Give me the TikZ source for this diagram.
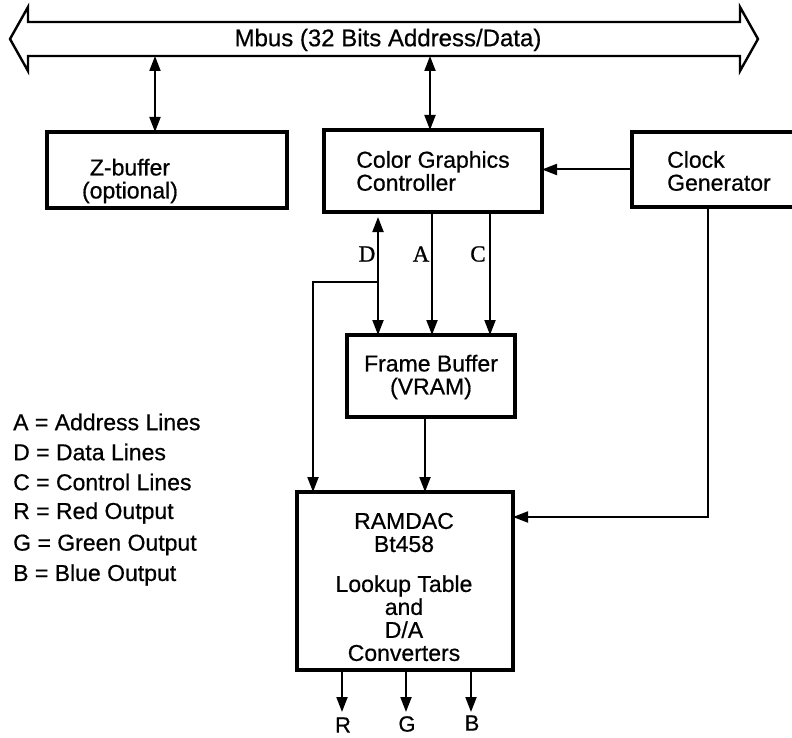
\documentclass[tikz,border=0pt]{standalone}
\usepackage{fontspec}
\setmainfont{Liberation Sans}[FakeBold=0.6]
\newfontfamily\lblserif{Liberation Serif}[FakeBold=1]
\usetikzlibrary{arrows.meta}
\tikzset{
  box/.style={draw, line width=3.8pt, rectangle, inner sep=0pt, outer sep=0pt},
  txt/.style={inner sep=0pt, align=left, font=\fontsize{23}{23}\selectfont},
  ctxt/.style={inner sep=0pt, align=center, font=\fontsize{23}{23}\selectfont},
  conn/.style={line width=2pt, -{Triangle[length=15pt,width=11pt]}},
  dconn/.style={line width=2pt, {Triangle[length=15pt,width=11pt]}-{Triangle[length=15pt,width=11pt]}},
  serlbl/.style={inner sep=0pt, font=\lblserif\fontsize{23}{23}\selectfont},
  leg/.style={inner sep=0pt, anchor=west, font=\fontsize{23}{23}\selectfont},
  outlbl/.style={inner sep=0pt, font=\fontsize{22}{22}\selectfont}
}
\begin{document}
\begin{tikzpicture}[x=1pt, y=-1pt]
\useasboundingbox (0,0) rectangle (792,738);
\clip (0,0) rectangle (792,738);
% Mbus
\draw[line width=2.4pt, line join=miter] (10,39) -- (28,7) -- (28,22) -- (740,22) -- (740,7) -- (758,39) -- (740,71) -- (740,56) -- (28,56) -- (28,71) -- cycle;
\node[inner sep=0pt, font=\fontsize{24}{24}\selectfont] (bustxt) at (388,40) {Mbus (32 Bits Address/Data)};
\coordinate (busz) at (155,56);
\coordinate (busc) at (430,56);
% boxes
\node[box, minimum width=240pt, minimum height=76pt] (zbuf) at (167,170) {};
\node[txt, align=center] (zbuftxt) at (130,181) {Z-buffer\\(optional)};
\node[box, minimum width=218pt, minimum height=82pt] (cgc) at (433,171) {};
\node[txt] (cgctxt) at (433,171) {Color Graphics\\Controller};
\node[box, minimum width=188pt, minimum height=75pt] (clock) at (726,169.5) {};
\node[txt, anchor=west] (clocktxt) at (667,171) {Clock\\Generator};
\node[box, minimum width=168pt, minimum height=82pt] (fb) at (431,376) {};
\node[ctxt] (fbtxt) at (431,377) {Frame Buffer\\(VRAM)};
\node[box, minimum width=216pt, minimum height=178pt] (ramdac) at (405,581) {};
\node[ctxt] (ramtxt) at (404,587) {RAMDAC\\Bt458\\[17pt]Lookup Table\\and\\D/A\\Converters};
% bus connections
\draw[dconn] (busz) -- (busz |- zbuf.north);
\draw[dconn] (busc) -- (busc |- cgc.north);
% clock to cgc
\draw[conn] (clock.west) -- (cgc.east |- clock.west);
% D, A, C lines
\coordinate (dx) at (378,0);
\coordinate (ax) at (432,0);
\coordinate (cx) at (490,0);
\draw[dconn, shorten <=5pt] (dx |- cgc.south) -- (dx |- fb.north);
\draw[conn] (ax |- cgc.south) -- (ax |- fb.north);
\draw[conn] (cx |- cgc.south) -- (cx |- fb.north);
\node[serlbl] (dlbl) at (367,254) {D};
\node[serlbl] (albl) at (421,254) {A};
\node[serlbl] (clbl) at (478,254) {C};
% D branch to RAMDAC
\coordinate (dj) at (378,282);
\coordinate (dl) at (313,282);
\draw[conn] (dj) -- (dl) -- (dl |- ramdac.north);
% FB to RAMDAC
\coordinate (fx) at (425,0);
\draw[conn] (fx |- fb.south) -- (fx |- ramdac.north);
% clock to RAMDAC
\coordinate (ck) at (708,517);
\draw[conn] (ck |- clock.south) -- (ck) -- (ck -| ramdac.east);
% outputs
\coordinate (ro) at (342,712);
\coordinate (go) at (406,712);
\coordinate (bo) at (471,712);
\draw[conn] (ro |- ramdac.south) -- (ro);
\draw[conn] (go |- ramdac.south) -- (go);
\draw[conn] (bo |- ramdac.south) -- (bo);
\node[outlbl] (rl) at (343,725) {R};
\node[outlbl] (gl) at (407,724) {G};
\node[outlbl] (bl) at (472,723) {B};
% legend
\node[leg] (l1) at (13,422) {A = Address Lines};
\node[leg] (l2) at (13,452) {D = Data Lines};
\node[leg] (l3) at (13,482) {C = Control Lines};
\node[leg] (l4) at (13,513) {R = Red Output};
\node[leg] (l5) at (13,545) {G = Green Output};
\node[leg] (l6) at (13,575) {B = Blue Output};
\end{tikzpicture}
\end{document}
